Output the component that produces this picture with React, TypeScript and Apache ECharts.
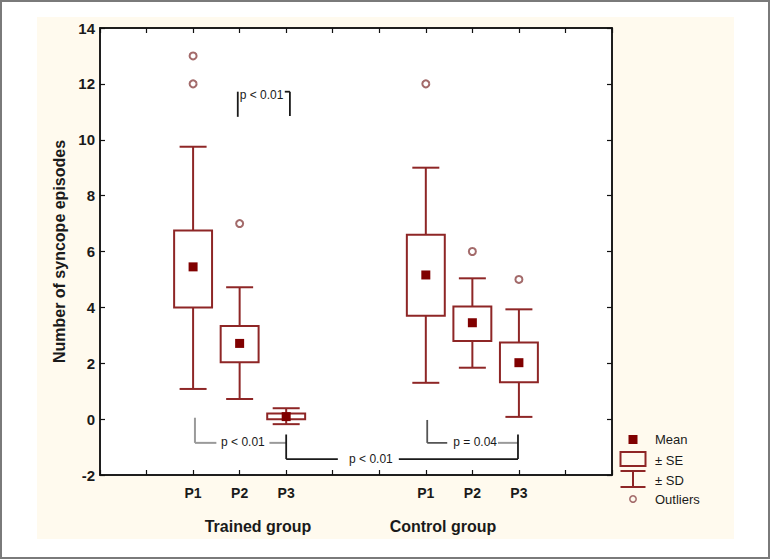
import React, { useEffect, useRef } from 'react';
import * as echarts from 'echarts';

// ---- data ----
const axisCategories = ['', '', 'P1', 'P2', 'P3', '', '', 'P1', 'P2', 'P3', '', ''];
const groupLabels = ['Trained group', 'Control group'];
const meanValues = [5.45, 2.71, 0.09, 5.16, 3.45, 2.02];
const seLower = [4.0, 2.04, 0.0, 3.7, 2.8, 1.32];
const seUpper = [6.75, 3.33, 0.2, 6.6, 4.03, 2.74];
const sdLower = [1.08, 0.72, -0.18, 1.3, 1.84, 0.08];
const sdUpper = [9.75, 4.72, 0.39, 9.0, 5.04, 3.93];
const outlierBox = [0, 0, 1, 3, 4, 5];
const outlierValues = [13, 12, 7, 12, 6, 5];
const yMin = -2;
const yMax = 14;
const yStep = 2;
const pLabels = ['p < 0.01', 'p < 0.01', 'p < 0.01', 'p = 0.04'];
const legendLabels = ['Mean', '\u00b1 SE', '\u00b1 SD', 'Outliers'];

// annotation brackets in axis units [x1, y1, x2, y2]
const bracketGray = [
  [2.04, 0.05, 2.04, -0.85],
  [2.04, -0.85, 2.5, -0.85],
  [3.64, -0.85, 4.0, -0.85],
  [8.55, -0.85, 8.98, -0.85],
];
const bracketDark = [
  [7.03, -0.03, 7.03, -0.85],
  [7.03, -0.85, 7.46, -0.85],
];
const bracketBlack = [
  [2.96, 11.72, 2.96, 10.82],
  [3.97, 11.72, 4.08, 11.72],
  [4.08, 11.72, 4.08, 10.85],
  [4.0, -0.55, 4.0, -1.43],
  [4.0, -1.43, 5.11, -1.43],
  [6.42, -1.43, 8.98, -1.43],
  [8.98, -0.55, 8.98, -1.43],
];
// [x, y, align]
const pLabelPos: [number, number, string][] = [
  [3.0, 11.6, 'left'],
  [3.07, -0.83, 'center'],
  [5.82, -1.43, 'center'],
  [8.06, -0.83, 'center'],
];

const BOX = '#8e2626';
const MEAN = '#800000';
const OUT = '#a36a6a';
const FONT = '"Liberation Sans", Arial, sans-serif';

export default function App() {
  const ref = useRef<HTMLDivElement>(null);
  useEffect(() => {
    if (!ref.current) return;
    const chart = echarts.init(ref.current, undefined, { renderer: 'svg' });
    const slots = axisCategories.map((c, i) => (c ? i : -1)).filter((i) => i >= 0);
    const boxData = slots.map((s, i) => [s, sdLower[i], seLower[i], seUpper[i], sdUpper[i]]);
    const meanData = slots.map((s, i) => [s, meanValues[i]]);
    const outData = outlierBox.map((b, i) => [slots[b], outlierValues[i]]);

    const axisLine = { show: true, onZero: false, lineStyle: { color: '#111', width: 1.5 } };
    const tick = { show: true, inside: true, length: 5, lineStyle: { color: '#111', width: 1.2 } };

    chart.setOption({
      animation: false,
      backgroundColor: '#ffffff',
      grid: {
        left: 100, top: 28, width: 512, height: 447,
        show: true, backgroundColor: '#ffffff', borderColor: '#111', borderWidth: 1.5,
      },
      xAxis: [
        {
          type: 'category', data: axisCategories, boundaryGap: false, position: 'bottom',
          axisLine, axisTick: { ...tick, interval: 0 },
          axisLabel: { interval: 0, margin: 11, fontFamily: FONT, fontWeight: 'bold', fontSize: 14, color: '#1a1a1a' },
          splitLine: { show: false },
        },
        {
          type: 'category', data: axisCategories, boundaryGap: false, position: 'top',
          axisLine, axisTick: { ...tick, interval: 0 }, axisLabel: { show: false },
          splitLine: { show: false },
        },
      ],
      yAxis: [
        {
          type: 'value', min: yMin, max: yMax, interval: yStep, position: 'left',
          axisLine, axisTick: tick,
          axisLabel: { margin: 5, fontFamily: FONT, fontWeight: 'bold', fontSize: 15, color: '#1a1a1a' },
          splitLine: { show: false },
          name: 'Number of syncope episodes', nameLocation: 'middle', nameGap: 32,
          nameTextStyle: { fontFamily: FONT, fontWeight: 'bold', fontSize: 16, color: '#1a1a1a' },
        },
        {
          type: 'value', min: yMin, max: yMax, interval: yStep, position: 'right',
          axisLine, axisTick: tick, axisLabel: { show: false }, splitLine: { show: false },
        },
      ],
      series: [
        {
          type: 'custom',
          data: boxData,
          z: 3,
          renderItem: (params: any, api: any) => {
            const x = api.value(0);
            const pLo = api.coord([x, api.value(1)]);
            const pSeLo = api.coord([x, api.value(2)]);
            const pSeHi = api.coord([x, api.value(3)]);
            const pHi = api.coord([x, api.value(4)]);
            const band = api.size([1, 0])[0];
            const boxW = band * 0.815;
            const capW = band * 0.58;
            const cx = pLo[0];
            const st = { stroke: BOX, lineWidth: 2, fill: 'none' };
            return {
              type: 'group',
              children: [
                { type: 'line', shape: { x1: cx, y1: pHi[1], x2: cx, y2: pSeHi[1] }, style: st },
                { type: 'line', shape: { x1: cx, y1: pSeLo[1], x2: cx, y2: pLo[1] }, style: st },
                { type: 'line', shape: { x1: cx - capW / 2, y1: pHi[1], x2: cx + capW / 2, y2: pHi[1] }, style: st },
                { type: 'line', shape: { x1: cx - capW / 2, y1: pLo[1], x2: cx + capW / 2, y2: pLo[1] }, style: st },
                {
                  type: 'rect',
                  shape: { x: cx - boxW / 2, y: pSeHi[1], width: boxW, height: pSeLo[1] - pSeHi[1] },
                  style: st,
                },
              ],
            };
          },
        },
        {
          type: 'scatter', data: meanData, symbol: 'rect', symbolSize: 9, z: 5,
          itemStyle: { color: MEAN, opacity: 1 },
        },
        {
          type: 'scatter', data: outData, symbol: 'emptyCircle', symbolSize: 7, z: 5,
          itemStyle: { color: OUT, borderColor: OUT, borderWidth: 1.5, opacity: 1 },
        },
      ],
    });

    // pixel helpers for annotations
    const p0 = chart.convertToPixel({ xAxisIndex: 0, yAxisIndex: 0 }, [0, yMin]) as number[];
    const p1 = chart.convertToPixel({ xAxisIndex: 0, yAxisIndex: 0 }, [axisCategories.length - 1, yMax]) as number[];
    const n = axisCategories.length - 1;
    const px = (v: number) => p0[0] + (v / n) * (p1[0] - p0[0]);
    const py = (v: number) => p0[1] + ((v - yMin) / (yMax - yMin)) * (p1[1] - p0[1]);

    const segs = (list: number[][], color: string, w: number) =>
      list.map((s) => ({
        type: 'line',
        shape: { x1: px(s[0]), y1: py(s[1]), x2: px(s[2]), y2: py(s[3]) },
        style: { stroke: color, lineWidth: w },
        z: 10,
      }));

    const textStyle = { fontFamily: FONT, fontSize: 12, fill: '#1a1a1a' };
    const pTexts = pLabelPos.map((p, i) => ({
      type: 'text',
      x: px(p[0]), y: py(p[1]), z: 10,
      style: { ...textStyle, text: pLabels[i], align: p[2], verticalAlign: 'middle' },
    }));

    // legend
    const lx = 633;
    const legend = [
      { type: 'rect', shape: { x: lx - 4.5, y: 435, width: 9, height: 9 }, style: { fill: MEAN } },
      { type: 'rect', shape: { x: lx - 12.5, y: 452, width: 25, height: 14 }, style: { fill: 'none', stroke: BOX, lineWidth: 2 } },
      { type: 'line', shape: { x1: lx - 12.5, y1: 471, x2: lx + 12.5, y2: 471 }, style: { stroke: BOX, lineWidth: 2 } },
      { type: 'line', shape: { x1: lx, y1: 471, x2: lx, y2: 487 }, style: { stroke: BOX, lineWidth: 2 } },
      { type: 'line', shape: { x1: lx - 12.5, y1: 487, x2: lx + 12.5, y2: 487 }, style: { stroke: BOX, lineWidth: 2 } },
      { type: 'circle', shape: { cx: lx, cy: 499, r: 3.2 }, style: { fill: 'none', stroke: OUT, lineWidth: 1.5 } },
      ...[439, 460, 480, 499].map((y, i) => ({
        type: 'text', x: 655, y,
        style: { fontFamily: FONT, fontSize: 13, fill: '#1a1a1a', text: legendLabels[i], verticalAlign: 'middle' },
      })),
    ];

    const groupTexts = [
      { type: 'text', x: 258, y: 526, style: { fontFamily: FONT, fontSize: 16, fontWeight: 'bold', fill: '#1a1a1a', text: groupLabels[0], align: 'center', verticalAlign: 'middle' } },
      { type: 'text', x: 443, y: 526, style: { fontFamily: FONT, fontSize: 16, fontWeight: 'bold', fill: '#1a1a1a', text: groupLabels[1], align: 'center', verticalAlign: 'middle' } },
    ];

    chart.setOption({
      graphic: [
        { type: 'rect', z: -100, silent: true, shape: { x: 37, y: 17, width: 697, height: 522 }, style: { fill: '#fffaee' } },
        { type: 'rect', z: -99, silent: true, shape: { x: 1, y: 1, width: 768, height: 557 }, style: { fill: 'none', stroke: '#7a7a7a', lineWidth: 2 } },
        ...segs(bracketGray, '#9a9a9a', 2),
        ...segs(bracketDark, '#555555', 1.8),
        ...segs(bracketBlack, '#1a1a1a', 1.8),
        ...pTexts,
        ...legend,
        ...groupTexts,
      ],
    });

    return () => chart.dispose();
  }, []);

  return (
    <div
      ref={ref}
      style={{ position: 'absolute', left: 0, top: 0, width: 771, height: 560 }}
    />
  );
}
